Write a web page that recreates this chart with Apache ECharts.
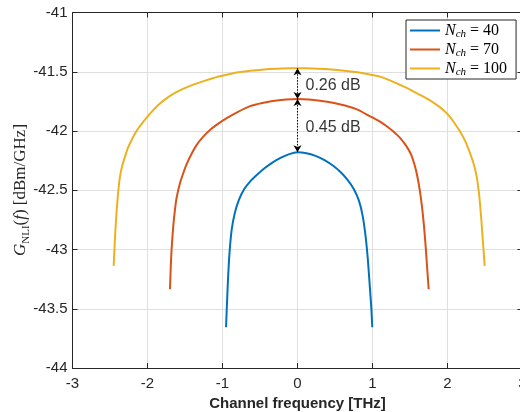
<!DOCTYPE html>
<html>
<head>
<meta charset="utf-8">
<script src="https://cdn.jsdelivr.net/npm/echarts@6/dist/echarts.min.js"></script>
<style>
  html, body { margin: 0; padding: 0; background: #fff; }
  #chart { width: 520px; height: 412px; }
</style>
</head>
<body>
<div id="chart"></div>
<script>
// NLI power spectral density across the WDM band for three channel counts
const channelCounts = [40, 70, 100];

const freq40 = [-0.953, -0.943, -0.93, -0.91, -0.878, -0.835, -0.78, -0.71, -0.63, -0.54, -0.44, -0.33, -0.22, -0.11, 0,
                0.12, 0.24, 0.36, 0.48, 0.58, 0.67, 0.75, 0.82, 0.87, 0.91, 0.94, 0.965, 0.985, 0.997];
const gnli40 = [-43.656, -43.5, -43.3, -43.06, -42.835, -42.69, -42.58, -42.49, -42.425, -42.37, -42.315, -42.265, -42.225, -42.195, -42.18,
                -42.188, -42.21, -42.245, -42.295, -42.35, -42.415, -42.49, -42.59, -42.72, -42.90, -43.10, -43.32, -43.5, -43.656];

const freq70 = [-1.70, -1.69, -1.678, -1.656, -1.633, -1.611, -1.567, -1.52, -1.478, -1.41, -1.344, -1.26, -1.167, -1.06, -0.944, -0.8, -0.633, -0.47, -0.3, -0.15, 0,
                0.15, 0.3, 0.47, 0.633, 0.8, 0.95, 1.1, 1.19, 1.278, 1.37, 1.456, 1.515, 1.567, 1.60, 1.633, 1.66, 1.685, 1.709, 1.728, 1.749];
const gnli70 = [-43.335, -43.15, -42.99, -42.80, -42.66, -42.56, -42.44, -42.35, -42.28, -42.19, -42.117, -42.05, -41.991, -41.94, -41.892, -41.84, -41.79, -41.763, -41.745, -41.734, -41.73,
                -41.734, -41.745, -41.762, -41.785, -41.82, -41.87, -41.921, -41.96, -42.005, -42.06, -42.132, -42.2, -42.30, -42.39, -42.51, -42.64, -42.79, -42.976, -43.15, -43.335];

const freq100 = [-2.451, -2.44, -2.429, -2.411, -2.39, -2.367, -2.335, -2.30, -2.26, -2.211, -2.17, -2.122, -2.06, -2.0, -1.93, -1.856, -1.77, -1.678, -1.57, -1.456, -1.34, -1.233, -1.05, -0.856, -0.63, -0.41, -0.2, 0,
                 0.2, 0.41, 0.63, 0.856, 1.1, 1.24, 1.367, 1.5, 1.633, 1.75, 1.856, 1.94, 2.011, 2.09, 2.167, 2.24, 2.3, 2.35, 2.389, 2.415, 2.433, 2.45, 2.464, 2.48, 2.496];
const gnli100 = [-43.138, -42.99, -42.85, -42.67, -42.51, -42.385, -42.29, -42.216, -42.14, -42.075, -42.025, -41.977, -41.925, -41.878, -41.828, -41.78, -41.735, -41.695, -41.658, -41.625, -41.598, -41.575, -41.54, -41.512, -41.492, -41.478, -41.472, -41.47,
                 -41.472, -41.478, -41.492, -41.51, -41.541, -41.575, -41.611, -41.65, -41.695, -41.735, -41.78, -41.82, -41.864, -41.93, -42.005, -42.09, -42.187, -42.28, -42.385, -42.5, -42.61, -42.74, -42.863, -43.0, -43.138];

const xTicks = [-3, -2, -1, 0, 1, 2, 3];
const yTicks = [-44, -43.5, -43, -42.5, -42, -41.5, -41];

const colors = ['#0072BD', '#D95319', '#EDB120'];
const freqs = [freq40, freq70, freq100];
const gnlis = [gnli40, gnli70, gnli100];

// peak values at the band centre (f = 0)
const peak = gnlis.map((g, i) => g[freqs[i].indexOf(0)]);
const gapHigh = peak[2] - peak[1];
const gapLow = peak[1] - peak[0];

const textColor = '#262626';
const sans = '"Liberation Sans", Arial, Helvetica, sans-serif';
const serif = '"Liberation Serif", "DejaVu Serif", serif';

const chart = echarts.init(document.getElementById('chart'), null, { renderer: 'canvas' });

const mkSeries = (i) => ({
  name: 'N' + channelCounts[i],
  type: 'line',
  xAxisIndex: 0,
  yAxisIndex: 0,
  showSymbol: false,
  symbol: 'none',
  smooth: 0.2,
  lineStyle: { color: colors[i], width: 2 },
  itemStyle: { color: colors[i] },
  data: freqs[i].map((f, k) => [f, gnlis[i][k]]),
  z: 3
});

const series = [0, 1, 2].map(mkSeries);

// dotted double-headed arrows between the peaks
series[0].markLine = {
  silent: true,
  symbol: ['arrow', 'arrow'],
  symbolSize: [6, 7],
  animation: false,
  label: { show: false },
  lineStyle: { type: [1.5, 1.5], color: '#000', width: 1 },
  emphasis: { disabled: true },
  data: [
    [{ coord: [0, peak[2]] }, { coord: [0, peak[1]] }],
    [{ coord: [0, peak[1]] }, { coord: [0, peak[0]] }]
  ]
};

// gap labels
series.push({
  type: 'scatter',
  symbolSize: 0,
  silent: true,
  data: [
    [0, (peak[2] + peak[1]) / 2, gapHigh.toFixed(2) + ' dB'],
    [0, (peak[1] + peak[0]) / 2, gapLow.toFixed(2) + ' dB']
  ],
  label: {
    show: true,
    position: 'right',
    distance: 8,
    offset: [0, 2],
    formatter: p => p.data[2],
    color: '#000',
    fontFamily: sans,
    fontSize: 16
  },
  z: 5
});

const legendRich = {
  n: { fontFamily: serif, fontStyle: 'italic', fontSize: 16, color: '#000' },
  s: { fontFamily: serif, fontStyle: 'italic', fontSize: 11, color: '#000', verticalAlign: 'bottom', lineHeight: 19 },
  t: { fontFamily: serif, fontSize: 16, color: '#000' }
};

chart.setOption({
  animation: false,
  backgroundColor: '#fff',
  color: colors,
  grid: { left: 72.5, top: 12.5, width: 450, height: 355.5, containLabel: false, outerBoundsMode: 'none' },
  legend: {
    orient: 'vertical',
    left: 406,
    top: 20,
    padding: [1, 9, 1, 4],
    itemGap: 0,
    itemWidth: 30,
    itemHeight: 2,
    icon: 'rect',
    backgroundColor: '#fff',
    borderColor: textColor,
    borderWidth: 1,
    data: series.slice(0, 3).map(s => s.name),
    formatter: name => '{n|N}{s|ch}{t| = ' + name.slice(1) + '}',
    textStyle: { rich: legendRich, lineHeight: 19 }
  },
  xAxis: [{
    type: 'value',
    min: xTicks[0],
    max: xTicks[xTicks.length - 1],
    interval: 1,
    position: 'bottom',
    name: 'Channel frequency [THz]',
    nameLocation: 'middle',
    nameGap: 27,
    nameTextStyle: { fontFamily: sans, fontSize: 15, fontWeight: 'bold', color: textColor },
    axisLine: { show: true, onZero: false, lineStyle: { color: textColor, width: 1 } },
    axisTick: { show: true, inside: true, length: 5, lineStyle: { color: textColor } },
    axisLabel: { show: true, margin: 8, fontFamily: sans, fontSize: 15, color: textColor,
                 formatter: v => String(v) },
    splitLine: { show: true, lineStyle: { color: '#dfdfdf', width: 1 } }
  }, {
    type: 'value',
    min: xTicks[0],
    max: xTicks[xTicks.length - 1],
    interval: 1,
    position: 'top',
    axisLine: { show: true, onZero: false, lineStyle: { color: textColor, width: 1 } },
    axisTick: { show: true, inside: true, length: 5, lineStyle: { color: textColor } },
    axisLabel: { show: false },
    splitLine: { show: false }
  }],
  yAxis: [{
    type: 'value',
    min: yTicks[0],
    max: yTicks[yTicks.length - 1],
    interval: 0.5,
    position: 'left',
    axisLine: { show: true, onZero: false, lineStyle: { color: textColor, width: 1 } },
    axisTick: { show: true, inside: true, length: 5, lineStyle: { color: textColor } },
    axisLabel: { show: true, margin: 5, fontFamily: sans, fontSize: 15, color: textColor,
                 formatter: v => String(v) },
    splitLine: { show: true, lineStyle: { color: '#dfdfdf', width: 1 } }
  }, {
    type: 'value',
    min: yTicks[0],
    max: yTicks[yTicks.length - 1],
    interval: 0.5,
    position: 'right',
    axisLine: { show: true, onZero: false, lineStyle: { color: textColor, width: 1 } },
    axisTick: { show: true, inside: true, length: 5, lineStyle: { color: textColor } },
    axisLabel: { show: false },
    splitLine: { show: false }
  }],
  graphic: [{
    type: 'text',
    x: 21,
    y: 190,
    rotation: Math.PI / 2,
    style: {
      text: '{g|G}{sub|NLI}{r|(}{f|f}{r|) [dBm/GHz]}',
      align: 'center',
      verticalAlign: 'middle',
      rich: {
        g: { fontFamily: serif, fontStyle: 'italic', fontSize: 17, fill: textColor },
        sub: { fontFamily: serif, fontSize: 11, fill: textColor, verticalAlign: 'bottom', lineHeight: 21 },
        r: { fontFamily: serif, fontSize: 17, fill: textColor },
        f: { fontFamily: serif, fontStyle: 'italic', fontSize: 17, fill: textColor }
      }
    }
  }],
  series: series
});
</script>
</body>
</html>
